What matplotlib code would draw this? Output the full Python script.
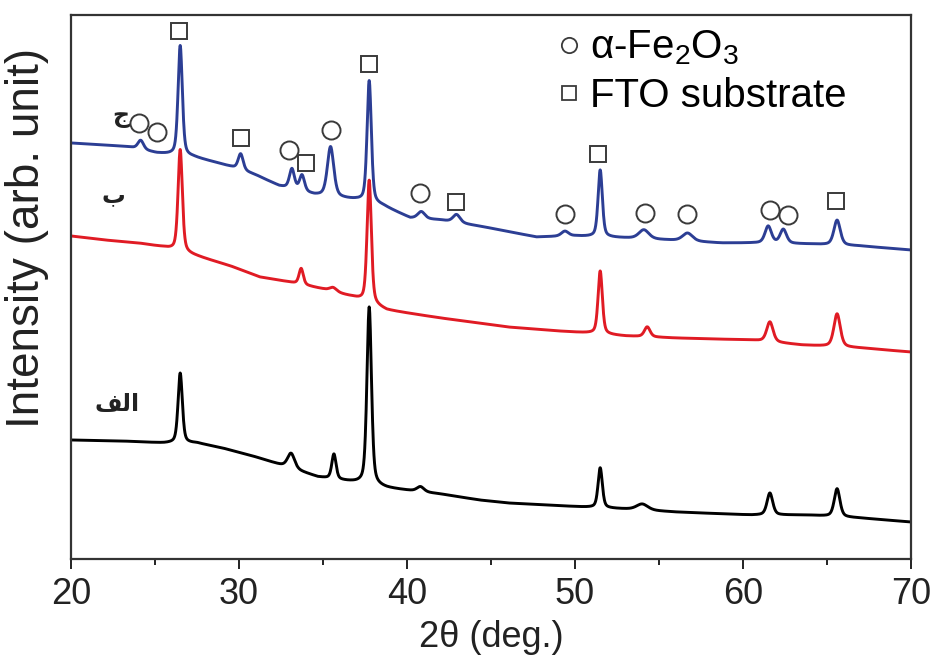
import numpy as np
import matplotlib
matplotlib.use("Agg")
import matplotlib.pyplot as plt
from matplotlib.lines import Line2D

plt.rcParams['font.family'] = ['Liberation Sans', 'DejaVu Sans']
plt.rcParams['mathtext.fontset'] = 'custom'
plt.rcParams['mathtext.rm'] = 'Liberation Sans'
plt.rcParams['mathtext.it'] = 'Liberation Sans:italic'

# ---------------- data (2theta in deg, intensity in arb. units) ----------------
# baseline anchors
black_base_x = [20, 23, 25.5, 27.5, 29, 31, 32.5, 34.7, 36.7, 38.8, 42, 44.3, 46, 50.5, 53, 56, 60.5, 63.8, 67, 70]
black_base_y = [119, 118, 116, 116, 111, 102, 94, 82, 77, 71, 65, 59, 56, 52, 50, 47, 44, 44, 41, 37]
red_base_x = [20, 22, 24, 25.5, 27.5, 29.5, 31.25, 33, 35, 36.8, 38.8, 42, 44.3, 46, 49, 50.8, 53, 56, 60.5, 63.5, 67, 70]
red_base_y = [323, 319, 316, 312, 303, 293, 282, 277, 270, 262, 249, 241, 236, 232, 228, 226, 223, 221, 219, 214, 211, 207]
blue_base_x = [20, 22, 23.5, 25.1, 27.3, 28.5, 29.6, 31, 32.4, 34.5, 37.0, 38.6, 40.2, 42, 44.6, 47.7, 50, 53, 55.5, 58.7, 60.6, 63.8, 67, 70]
blue_base_y = [416, 414, 412, 406, 402, 397, 392, 384, 373, 364, 359, 353, 341, 339, 332, 322, 323, 321, 319, 316, 316, 315, 313, 309]

# peaks: position (deg), height (arb.), FWHM (deg)
black_pk_pos = [26.5, 33.1, 35.65, 37.75, 40.8, 51.5, 54.0, 61.6, 65.6]
black_pk_h = [70, 15, 25, 178, 5, 40, 6, 22, 28]
black_pk_w = [0.3, 0.5, 0.3, 0.32, 0.5, 0.3, 0.8, 0.4, 0.4]

red_pk_pos = [26.5, 33.7, 35.6, 37.75, 51.5, 54.3, 61.6, 65.6]
red_pk_h = [102, 16, 4, 123, 63, 10, 20, 33]
red_pk_w = [0.3, 0.3, 0.5, 0.3, 0.3, 0.4, 0.45, 0.45]

blue_pk_pos = [24.15, 26.5, 30.1, 33.15, 33.75, 35.45, 37.75, 40.85, 42.95, 49.4, 51.5, 54.1, 56.7, 61.5, 62.4, 65.6]
blue_pk_h = [9, 110, 16, 20, 16, 50, 122, 7, 8, 5, 67, 9, 8, 17, 14, 25]
blue_pk_w = [0.4, 0.3, 0.35, 0.35, 0.35, 0.45, 0.3, 0.5, 0.5, 0.5, 0.3, 0.7, 0.7, 0.45, 0.45, 0.45]

# phase markers
circ_x = [24.07, 25.1, 33.0, 35.46, 40.8, 49.4, 54.14, 56.67, 61.6, 62.7]
circ_y = [436, 427, 409, 429, 366, 345, 346, 345, 349, 344]
sq_x = [26.45, 30.1, 34.0, 37.76, 42.9, 51.37, 65.55]
sq_y = [528, 421, 396, 495, 357, 405, 358]

legend_labels = ['α-Fe$_2$O$_3$', 'FTO substrate']
sample_labels = ['ج', 'ب', 'ﻒﻟﺍ']
sample_label_x = [22.95, 22.5, 22.75]
sample_label_y = [443, 364, 155]

x_ticks = [20, 30, 40, 50, 60, 70]


def pattern(bx, by, pos, h, w, x):
    y = np.interp(x, bx, by)
    for p, a, fw in zip(pos, h, w):
        g = np.exp(-4 * np.log(2) * ((x - p) / fw) ** 2)
        lz = 1.0 / (1 + 4 * ((x - p) / fw) ** 2)
        y = y + a * (0.55 * g + 0.45 * lz)
    return y


tt = np.linspace(20, 70, 3001)
black = pattern(black_base_x, black_base_y, black_pk_pos, black_pk_h, black_pk_w, tt)
red = pattern(red_base_x, red_base_y, red_pk_pos, red_pk_h, red_pk_w, tt)
blue = pattern(blue_base_x, blue_base_y, blue_pk_pos, blue_pk_h, blue_pk_w, tt)

# ---------------- figure ----------------
fig = plt.figure(figsize=(9.34, 6.71), dpi=100)
ax = fig.add_axes([71 / 934, 1 - 559 / 671, 840 / 934, 544 / 671])

ax.plot(tt, black, color='#000000', lw=2.1)
ax.plot(tt, red, color='#e01b24', lw=2.1)
ax.plot(tt, blue, color='#2c3e94', lw=2.1)

mk_col = '#3a3a3a'
ax.plot(circ_x, circ_y, 'o', ms=13, mfc='none', mec=mk_col, mew=1.4)
ax.plot(sq_x, sq_y, 's', ms=11, mfc='none', mec=mk_col, mew=1.4)

for s, sx, sy in zip(sample_labels, sample_label_x, sample_label_y):
    ax.text(sx, sy, s, fontsize=17, family='DejaVu Sans', fontweight='bold',
            ha='center', va='center', color='#222222')

handles = [Line2D([], [], marker='o', ls='none', ms=11, mfc='none', mec=mk_col, mew=1.3),
           Line2D([], [], marker='s', ls='none', ms=10, mfc='none', mec=mk_col, mew=1.3)]
ax.legend(handles, legend_labels, loc='upper left', bbox_to_anchor=(0.582, 0.975),
          frameon=False, fontsize=29, handlelength=0.45, handletextpad=0.3,
          labelspacing=0.25, borderaxespad=0, borderpad=0)

ax.set_xlim(20, 70)
ax.set_ylim(0, 544)
ax.set_xticks(x_ticks)
ax.set_xticks([25, 35, 45, 55, 65], minor=True)
ax.set_yticks([])
ax.tick_params(axis='x', which='major', direction='out', length=7, width=1.4,
               labelsize=26, pad=6, colors='#222222')
ax.tick_params(axis='x', which='minor', direction='out', length=4, width=1.4, colors='#222222')
for sp in ax.spines.values():
    sp.set_color('#333333')
    sp.set_linewidth(1.6)

ax.set_xlabel('2θ (deg.)', fontsize=26, color='#222222', labelpad=6)
ax.set_ylabel('Intensity (arb. unit)', fontsize=33, color='#222222')
ax.yaxis.set_label_coords(-0.026, 0.59)

fig.savefig('out.png', dpi=100)
